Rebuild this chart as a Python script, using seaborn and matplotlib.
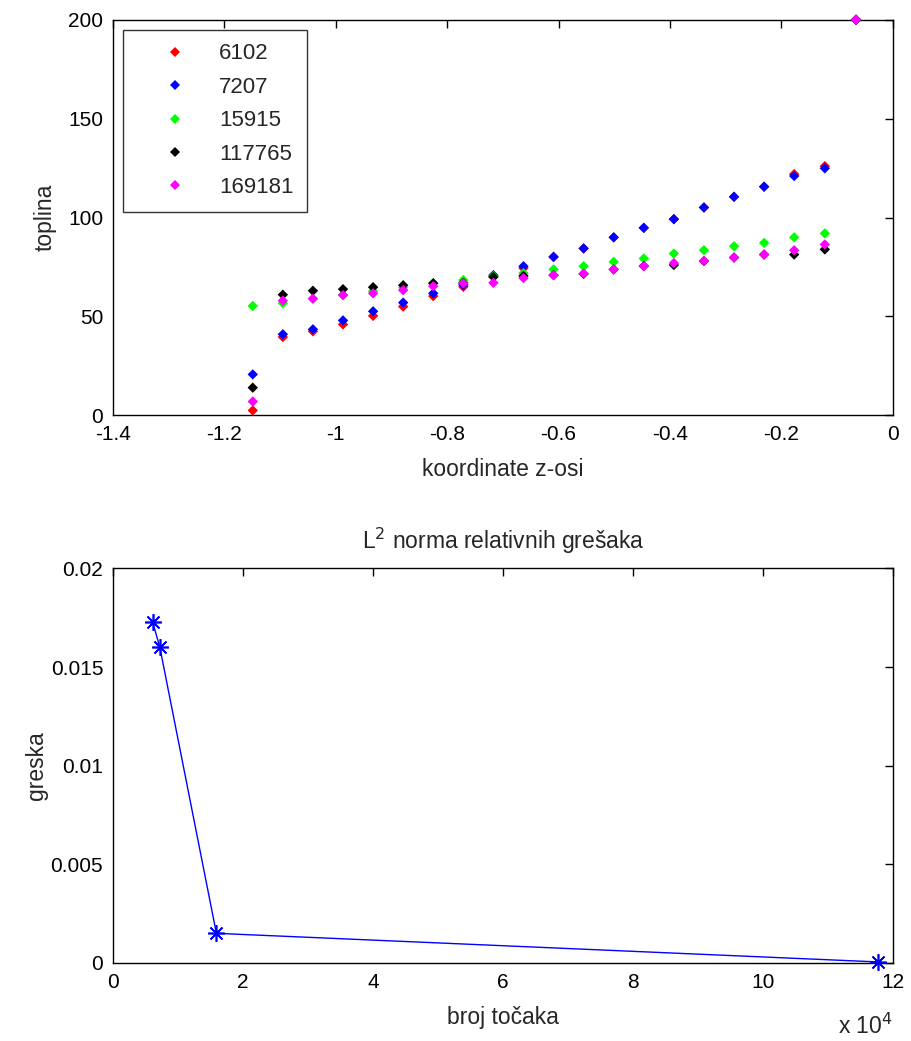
import numpy as np
import pandas as pd
import matplotlib
matplotlib.use("Agg")
import matplotlib.pyplot as plt
import seaborn as sns

sns.set_style("white")
plt.rcParams["font.family"] = ["Liberation Sans", "DejaVu Sans"]

# Data
z = [-1.149, -1.095, -1.041, -0.987, -0.933, -0.879, -0.825, -0.771, -0.717, -0.663,
     -0.609, -0.555, -0.501, -0.447, -0.393, -0.339, -0.285, -0.231, -0.177, -0.122, -0.066]
heat_6102 = [2.5, 39.6, 42.5, 46.0, 50.3, 55.0, 60.3, 65.0, 70.0, 74.4,
             80.0, 84.4, 90.0, 94.8, 99.2, 105.1, 110.5, 115.6, 122.0, 126.0, 200]
heat_7207 = [20.7, 41.0, 43.5, 48.0, 52.6, 57.0, 61.7, 66.0, 70.9, 75.4,
             80.2, 84.4, 90.0, 94.8, 99.2, 105.1, 110.5, 115.6, 121.0, 124.9, 200]
heat_15915 = [55.3, 56.7, 59.0, 60.8, 62.8, 64.6, 66.8, 68.4, 70.4, 71.9,
              73.8, 75.4, 77.6, 79.3, 81.8, 83.5, 85.5, 87.2, 90.0, 92.0, 200]
heat_117765 = [14.0, 61.0, 63.0, 63.8, 64.8, 65.8, 66.8, 67.0, 70.0, 70.5,
               70.9, 71.5, 73.8, 75.5, 76.0, 78.0, 79.8, 81.3, 81.3, 83.9, 200]
heat_169181 = [7.0, 58.0, 59.0, 60.8, 61.7, 63.3, 65.3, 66.8, 67.0, 69.4,
               70.9, 71.7, 73.8, 75.4, 77.0, 78.1, 79.8, 81.3, 83.5, 86.4, 200]

series_names = ["6102", "7207", "15915", "117765", "169181"]
series_colors = ["#ff0000", "#0000ff", "#00ff00", "#000000", "#ff00ff"]

n_points = [6102, 7207, 15915, 117765]
rel_error = [0.01728, 0.01601, 0.00150, 0.00005]

# Long form table for seaborn
frames = []
for name, vals in zip(series_names, [heat_6102, heat_7207, heat_15915, heat_117765, heat_169181]):
    frames.append(pd.DataFrame({"z": z, "toplina": vals, "mreza": name}))
df = pd.concat(frames, ignore_index=True)

err = pd.DataFrame({"broj": n_points, "greska": rel_error})

TICK_FS = 15
LABEL_FS = 16.5

fig = plt.figure(figsize=(9.11, 10.41), dpi=100)
ax1 = fig.add_axes([0.124, 0.601, 0.856, 0.380])
ax2 = fig.add_axes([0.124, 0.075, 0.856, 0.379])

# Top: temperature along z axis
sns.scatterplot(data=df, x="z", y="toplina", hue="mreza", hue_order=series_names,
                palette=series_colors, marker="D", s=28, linewidth=0, ax=ax1,
                clip_on=False, zorder=3)
ax1.set_xlim(-1.4, 0)
ax1.set_ylim(0, 200)
ax1.set_xticks([-1.4, -1.2, -1.0, -0.8, -0.6, -0.4, -0.2, 0])
ax1.set_xticklabels(["-1.4", "-1.2", "-1", "-0.8", "-0.6", "-0.4", "-0.2", "0"])
ax1.set_yticks([0, 50, 100, 150, 200])
ax1.set_xlabel("koordinate z-osi", fontsize=LABEL_FS, labelpad=10)
ax1.set_ylabel("toplina", fontsize=LABEL_FS, labelpad=8)
leg = ax1.legend(loc="upper left", bbox_to_anchor=(0.0128, 0.975), fontsize=16,
                 frameon=True, fancybox=False, edgecolor="black", markerscale=1.0,
                 handlelength=3.4, handletextpad=0.3, borderpad=0.62,
                 labelspacing=0.56, borderaxespad=0)
leg.get_frame().set_linewidth(1.0)

# Bottom: L2 norm of relative errors
sns.lineplot(data=err, x="broj", y="greska", color="#0000ff", linewidth=1,
             marker=(8, 2, 0), markersize=12, markeredgewidth=1.2,
             markeredgecolor="#0000ff", ax=ax2, clip_on=False, zorder=3)
ax2.set_xlim(0, 120000)
ax2.set_ylim(0, 0.02)
ax2.set_xticks([0, 20000, 40000, 60000, 80000, 100000, 120000])
ax2.set_xticklabels(["0", "2", "4", "6", "8", "10", "12"])
ax2.set_yticks([0, 0.005, 0.01, 0.015, 0.02])
ax2.set_yticklabels(["0", "0.005", "0.01", "0.015", "0.02"])
ax2.set_xlabel("broj točaka", fontsize=LABEL_FS, labelpad=10)
ax2.set_ylabel("greska", fontsize=LABEL_FS, labelpad=2)
ax2.set_title("L$^2$ norma relativnih grešaka", fontsize=LABEL_FS, pad=14)
ax2.text(1.0, -0.128, r"x 10$^4$", transform=ax2.transAxes, ha="right",
         va="top", fontsize=LABEL_FS)

for ax in (ax1, ax2):
    for sp in ax.spines.values():
        sp.set_visible(True)
        sp.set_color("black")
        sp.set_linewidth(1.0)
    ax.tick_params(direction="in", top=True, right=True, length=6, width=1,
                   labelsize=TICK_FS, colors="black", pad=7)

fig.savefig("out.png", dpi=100, facecolor="white")
